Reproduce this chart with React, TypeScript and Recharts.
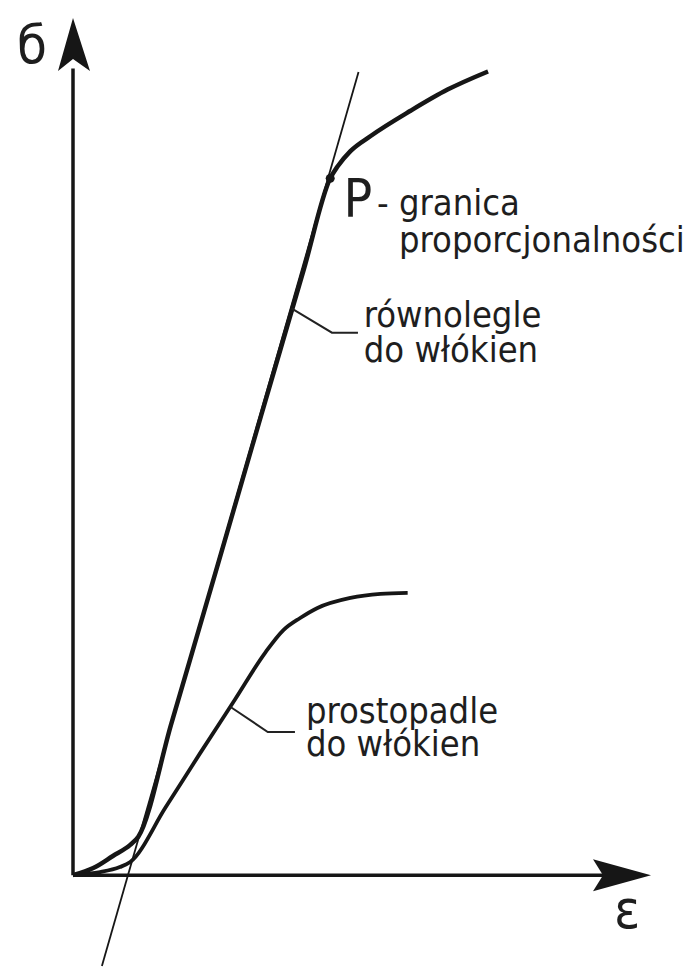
import { LineChart, Line, XAxis, YAxis, ReferenceLine, ReferenceDot } from 'recharts';

// strain (ε) and stress (σ), arbitrary units
const parallelStrain = [0, 3.5, 6.9, 9.9, 11.3, 17.0, 24.8, 32.5, 40.0, 44.5, 45.8, 48.0, 51.5, 58.4, 64.8, 71.8];
const parallelStress = [0, 0.7, 1.9, 3.0, 3.8, 15.0, 30.3, 45.5, 60.2, 69.1, 70.3, 71.8, 73.3, 75.8, 77.9, 79.7];

const perpStrain = [0, 4.7, 8.1, 9.9, 16.0, 22.0, 28.0, 33.3, 36.4, 39.3, 42.3, 48.0, 53.2, 57.9];
const perpStress = [0, 0.3, 0.8, 1.3, 6.7, 12.1, 17.4, 22.1, 24.3, 25.5, 26.5, 27.5, 27.9, 28.0];

// tangent to the linear part of the parallel curve
const tangentStrain = [5.0, 49.4];
const tangentStress = [-9.0, 79.65];

// proportional limit P
const limitP = { e: 44.5, s: 69.1 };

// leader lines to the curve captions
const parallelLeaderStrain = [37.8, 44.8, 49.3];
const parallelLeaderStress = [56.2, 53.8, 53.8];
const perpLeaderStrain = [27.2, 33.7, 38.4];
const perpLeaderStress = [16.7, 14.2, 14.2];

const parallelCaption = ['równolegle', 'do włókien'];
const perpCaption = ['prostopadle', 'do włókien'];
const limitCaption = ['- granica', 'proporcjonalności'];

const toPoints = (xs: number[], ys: number[]) => xs.map((e, i) => ({ e, s: ys[i] }));

const FONT = "'DejaVu Sans Condensed', 'DejaVu Sans', sans-serif";
const INK = '#161616';

// one <text> per caption, extra lines go into tspans
const textShape =
  (lines: string[], size: number, lineGap = 0, indent = 0) =>
  (props: any) => (
    <text
      x={props.cx}
      y={props.cy}
      fontFamily={FONT}
      fontStretch='condensed'
      fontSize={size}
      fill='#1e1e1e'
      textAnchor='start'
    >
      {lines.map((line, i) => (
        <tspan key={i} x={props.cx + (i > 0 ? indent : 0)} dy={i === 0 ? 0 : lineGap}>
          {line}
        </tspan>
      ))}
    </text>
  );

const arrowRight = (props: any) => {
  const { cx, cy } = props;
  return (
    <polygon
      points={`${cx},${cy} ${cx - 58},${cy - 16} ${cx - 48},${cy} ${cx - 58},${cy + 16}`}
      fill={INK}
    />
  );
};

const arrowUp = (props: any) => {
  const { cx, cy } = props;
  return (
    <polygon
      points={`${cx},${cy} ${cx + 17},${cy + 53} ${cx},${cy + 41} ${cx - 15},${cy + 53}`}
      fill={INK}
    />
  );
};

function StressStrainChart() {
  return (
    <LineChart width={698} height={976} margin={{ top: 18, right: 47, bottom: 0, left: 73 }}>
      <XAxis dataKey='e' type='number' domain={[0, 100]} hide allowDataOverflow />
      <YAxis type='number' domain={[-10, 85]} hide allowDataOverflow />

      {/* axes */}
      <ReferenceLine
        segment={[{ x: 0, y: 0 }, { x: 95, y: 0 }]}
        stroke={INK}
        strokeWidth={3.5}
        ifOverflow='visible'
      />
      <ReferenceLine
        segment={[{ x: 0, y: 0 }, { x: 0, y: 80 }]}
        stroke={INK}
        strokeWidth={3.5}
        ifOverflow='visible'
      />
      <ReferenceDot x={100} y={0} r={0} ifOverflow='visible' shape={arrowRight} />
      <ReferenceDot x={0} y={85} r={0} ifOverflow='visible' shape={arrowUp} />

      <Line
        data={toPoints(tangentStrain, tangentStress)}
        dataKey='s'
        type='linear'
        stroke={INK}
        strokeWidth={1.8}
        dot={false}
        isAnimationActive={false}
      />
      <Line
        data={toPoints(parallelStrain, parallelStress)}
        dataKey='s'
        type='monotone'
        stroke={INK}
        strokeWidth={4.5}
        dot={false}
        isAnimationActive={false}
      />
      <Line
        data={toPoints(perpStrain, perpStress)}
        dataKey='s'
        type='monotone'
        stroke={INK}
        strokeWidth={3.8}
        dot={false}
        isAnimationActive={false}
      />
      <Line
        data={toPoints(parallelLeaderStrain, parallelLeaderStress)}
        dataKey='s'
        type='linear'
        stroke='#222'
        strokeWidth={2}
        dot={false}
        isAnimationActive={false}
      />
      <Line
        data={toPoints(perpLeaderStrain, perpLeaderStress)}
        dataKey='s'
        type='linear'
        stroke='#222'
        strokeWidth={2}
        dot={false}
        isAnimationActive={false}
      />

      <ReferenceDot x={limitP.e} y={limitP.s} r={4.5} fill={INK} stroke='none' ifOverflow='visible' />

      {/* axis symbols */}
      <ReferenceDot x={-9.7} y={80.5} r={0} ifOverflow='visible' shape={textShape(['б'], 54)} />
      <ReferenceDot x={93.6} y={-5.2} r={0} ifOverflow='visible' shape={textShape(['ε'], 54)} />

      {/* captions */}
      <ReferenceDot x={46.8} y={65.3} r={0} ifOverflow='visible' shape={textShape(['P'], 53)} />
      <ReferenceDot
        x={52.6}
        y={65.5}
        r={0}
        ifOverflow='visible'
        shape={textShape(limitCaption, 36, 37, 22)}
      />
      <ReferenceDot
        x={50.3}
        y={54.4}
        r={0}
        ifOverflow='visible'
        shape={textShape(parallelCaption, 36, 35)}
      />
      <ReferenceDot
        x={40.3}
        y={15.1}
        r={0}
        ifOverflow='visible'
        shape={textShape(perpCaption, 36, 33)}
      />
    </LineChart>
  );
}

export default function App() {
  return (
    <div style={{ position: 'absolute', left: 0, top: 0, width: 698, height: 976, background: '#fff' }}>
      <StressStrainChart />
    </div>
  );
}
